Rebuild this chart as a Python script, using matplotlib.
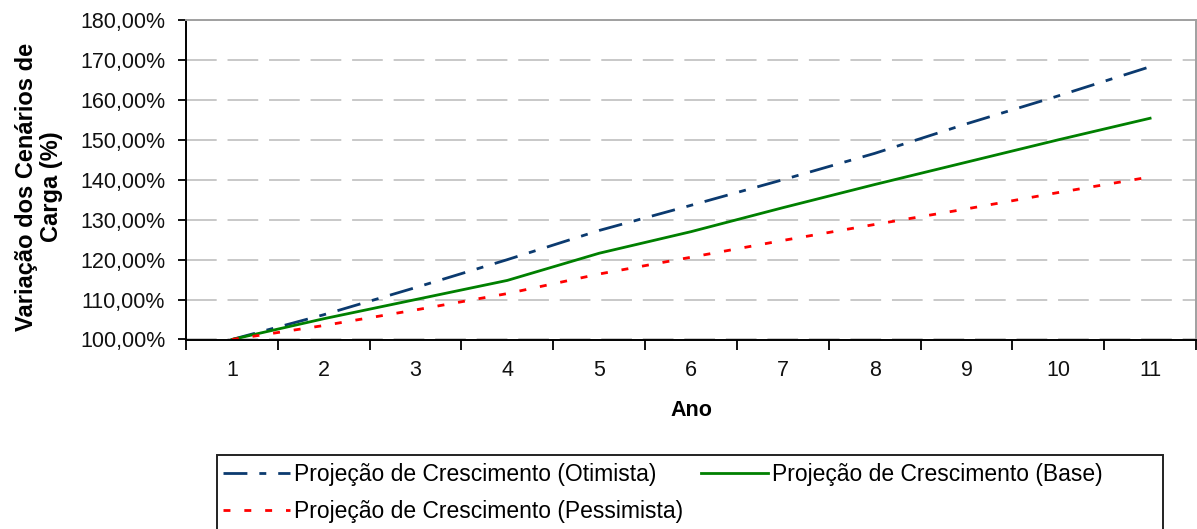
import matplotlib
matplotlib.use("Agg")
import matplotlib.pyplot as plt
from matplotlib.ticker import FixedLocator, FuncFormatter, NullFormatter
from matplotlib.patches import Rectangle

plt.rcParams['font.family'] = ['Liberation Sans', 'DejaVu Sans']

# Projected load growth per year (% of year 1)
anos = [1, 2, 3, 4, 5, 6, 7, 8, 9, 10, 11]
otimista = [100.0, 106.2, 113.0, 120.0, 127.3, 133.6, 140.0, 146.6, 154.0, 161.0, 168.3]
base = [100.0, 105.2, 110.0, 114.8, 121.6, 127.0, 133.0, 138.8, 144.4, 150.0, 155.4]
pessimista = [100.0, 103.5, 107.4, 111.5, 116.4, 120.6, 124.8, 128.8, 132.7, 136.8, 140.7]

nomes = ["Projeção de Crescimento (Otimista)",
         "Projeção de Crescimento (Base)",
         "Projeção de Crescimento (Pessimista)"]
y_ticks = [100, 110, 120, 130, 140, 150, 160, 170, 180]

W, H = 1197, 529
fig = plt.figure(figsize=(W / 100, H / 100), dpi=100)
ax = fig.add_axes([186 / W, 1 - 339.5 / H, (1196 - 186) / W, (339.5 - 20) / H])

FS = 15.5
FS_LEG = 16.5
FS_YLAB = 17.0

l_ot, = ax.plot(anos, otimista, color="#0b3a6f", lw=2.0,
                dashes=(8.6, 4.3, 2.5, 4.3), label=nomes[0])
l_ba, = ax.plot(anos, base, color="#008000", lw=2.0, label=nomes[1])
l_pe, = ax.plot(anos, pessimista, color="#ff0000", lw=2.0,
                dashes=(2.5, 5.0), label=nomes[2])

ax.set_xlim(0.5, 11.5)
ax.set_ylim(100, 180)

# category boundaries carry the tick marks, labels sit at the centres
ax.xaxis.set_major_locator(FixedLocator([a - 0.5 for a in anos] + [anos[-1] + 0.5]))
ax.xaxis.set_major_formatter(NullFormatter())
ax.xaxis.set_minor_locator(FixedLocator(anos))
ax.xaxis.set_minor_formatter(FuncFormatter(lambda v, p: f"{int(round(v))}"))
ax.tick_params(axis="x", which="major", direction="out", length=7, width=1.3, color="black")
ax.tick_params(axis="x", which="minor", length=0, pad=15, labelsize=FS, labelcolor="#111111")

ax.yaxis.set_major_locator(FixedLocator(y_ticks))
ax.yaxis.set_major_formatter(FuncFormatter(lambda v, p: f"{v:.2f}%".replace(".", ",")))
ax.tick_params(axis="y", direction="out", length=6, width=1.3, color="black",
               pad=9, labelsize=FS, labelcolor="#111111")

ax.grid(axis="y", color="#c4c4c4", lw=1.3, dashes=(17.0, 6.0))
ax.set_axisbelow(True)

for s in ("left", "bottom"):
    ax.spines[s].set_color("black")
    ax.spines[s].set_linewidth(1.4)
for s in ("top", "right"):
    ax.spines[s].set_color("#a0a0a0")
    ax.spines[s].set_linewidth(1.4)

fig.text(39 / W, 1 - 187 / H, "Variação dos Cenários de\nCarga (%)", rotation=90,
         ha="center", va="center", multialignment="center",
         fontsize=FS_YLAB, fontweight="bold", linespacing=1.15)
fig.text(691 / W, 1 - 411 / H, "Ano", ha="center", va="center",
         fontsize=FS, fontweight="bold")

# legend frame runs past the lower edge of the figure
fig.patches.append(Rectangle((217 / W, -0.1), (1163 - 217) / W, 0.1 + (1 - 455 / H),
                             transform=fig.transFigure, fill=False,
                             edgecolor="#222222", lw=1.4, clip_on=False))
leg = fig.legend([l_ot, l_pe, l_ba], [nomes[0], nomes[2], nomes[1]],
                 ncol=2, loc="upper left", bbox_to_anchor=(223 / W, 1 - 463 / H),
                 frameon=False, fontsize=FS_LEG, handlelength=2.92, handletextpad=0.2,
                 columnspacing=0.75, labelspacing=0.6, borderpad=0.0, borderaxespad=0.0)

fig.savefig("out.png", dpi=100)
